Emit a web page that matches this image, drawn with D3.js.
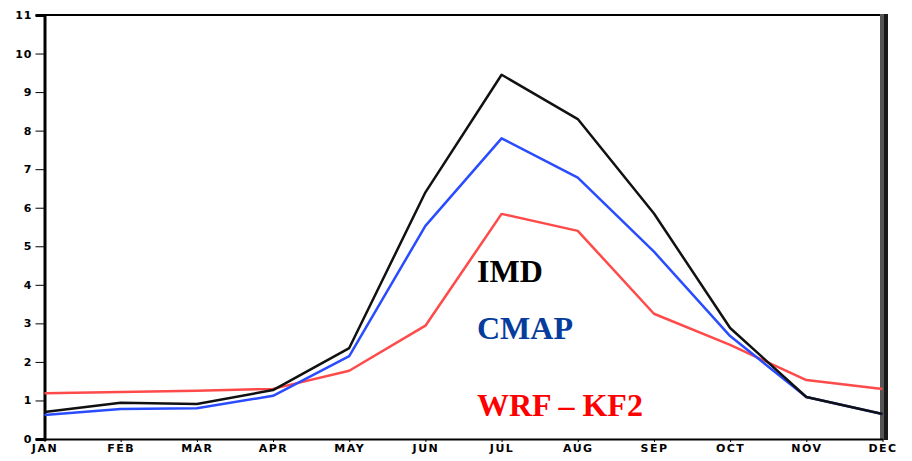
<!DOCTYPE html>
<html>
<head>
<meta charset="utf-8">
<script src="https://cdn.jsdelivr.net/npm/d3@7"></script>
<style>
  body { margin: 0; background: #fff; }
  svg { display: block; }
</style>
</head>
<body>
<div id="chart"></div>
<script>
// Monatswerte ablesen
const months = ["JAN", "FEB", "MAR", "APR", "MAY", "JUN", "JUL", "AUG", "SEP", "OCT", "NOV", "DEC"];
const imd  = [0.70, 0.94, 0.91, 1.27, 2.36, 6.40, 9.45, 8.30, 5.85, 2.88, 1.09, 0.65];
const cmap = [0.62, 0.78, 0.80, 1.12, 2.15, 5.53, 7.80, 6.78, 4.86, 2.67, 1.09, 0.65];
const wrf  = [1.19, 1.22, 1.25, 1.30, 1.77, 2.94, 5.84, 5.40, 3.25, 2.44, 1.53, 1.30];
const yTicks = [0, 1, 2, 3, 4, 5, 6, 7, 8, 9, 10, 11];

const w = 912, h = 461;
const svg = d3.select("#chart").append("svg")
  .attr("width", w).attr("height", h);

const x = d3.scalePoint().domain(months).range([44.5, 882.5]);
const y = d3.scaleLinear().domain([0, 11]).range([439, 15]);

// Rahmen oben + rechter Balken
svg.append("line")
  .attr("x1", 44).attr("x2", 884).attr("y1", 15).attr("y2", 15)
  .attr("stroke", "#000").attr("stroke-width", 2);
svg.append("rect").attr("x", 880).attr("y", 14).attr("width", 4).attr("height", 426).attr("fill", "#555");
svg.append("rect").attr("x", 884).attr("y", 14).attr("width", 4).attr("height", 426).attr("fill", "#1a1a1a");

// Achsen
const yAxis = svg.append("g")
  .attr("transform", "translate(44.5,0)")
  .call(d3.axisLeft(y).tickValues(yTicks).tickSize(9).tickPadding(3).tickFormat(d3.format("d")));
yAxis.select(".domain").attr("stroke-width", 3);
yAxis.selectAll("text")
  .attr("font-family", "DejaVu Sans").attr("font-weight", "bold").attr("font-size", 11)
  .attr("letter-spacing", 1);

const xAxis = svg.append("g")
  .attr("transform", "translate(0,439)")
  .call(d3.axisBottom(x).tickSize(3).tickPadding(2).tickSizeOuter(0));
xAxis.select(".domain").attr("stroke-width", 2);
xAxis.selectAll("text")
  .attr("font-family", "DejaVu Sans").attr("font-weight", "bold").attr("font-size", 11)
  .attr("letter-spacing", 1.5);

// Linien
const line = d3.line()
  .x((d, i) => x(months[i]))
  .y(d => y(d));

const series = [
  { values: wrf, color: "#ff4a4a" },
  { values: cmap, color: "#2a4cff" },
  { values: imd, color: "#111" }
];
series.forEach(s => {
  svg.append("path")
    .datum(s.values)
    .attr("fill", "none")
    .attr("stroke", s.color)
    .attr("stroke-width", 2.5)
    .attr("stroke-linejoin", "round")
    .attr("d", line);
});

// Beschriftungen
const labels = [
  { text: "IMD", color: "#000", y: 282 },
  { text: "CMAP", color: "#063c9c", y: 339 },
  { text: "WRF \u2013 KF2", color: "#ff0000", y: 416 }
];
svg.selectAll(".lab").data(labels).enter()
  .append("text")
  .attr("class", "lab")
  .attr("x", 477).attr("y", d => d.y)
  .attr("fill", d => d.color)
  .attr("font-family", "Liberation Serif")
  .attr("font-weight", "bold")
  .attr("font-size", 32)
  .text(d => d.text);
</script>
</body>
</html>
